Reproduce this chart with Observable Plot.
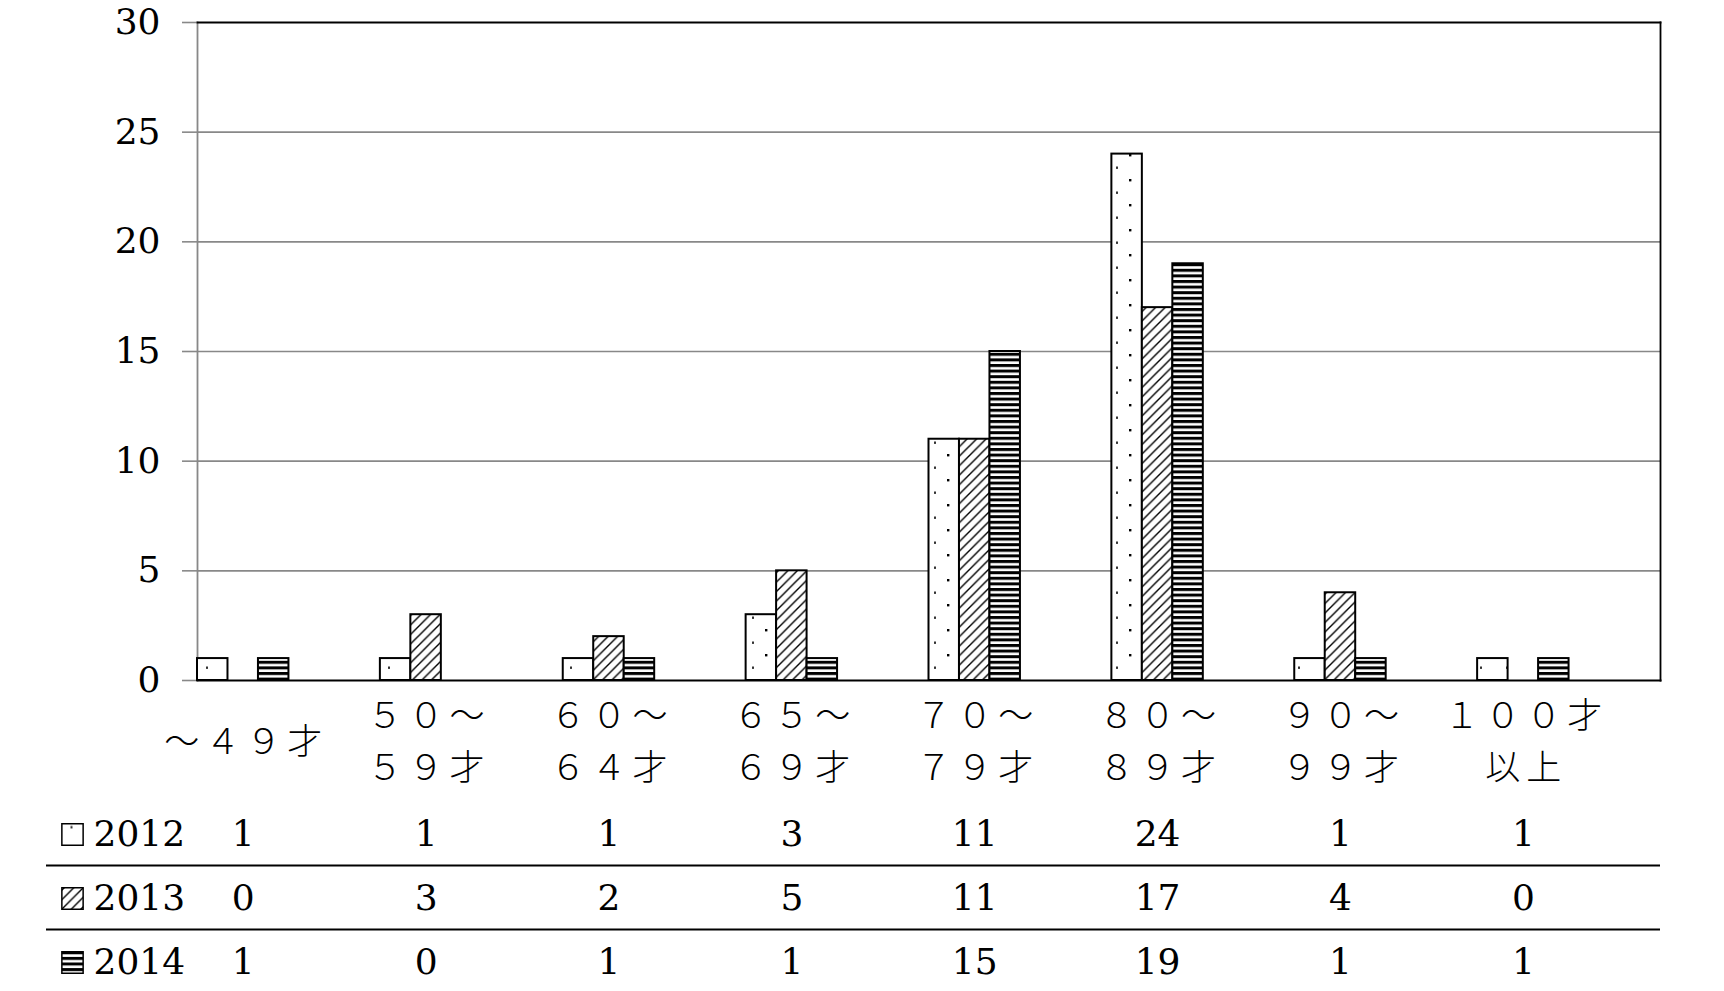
<!DOCTYPE html>
<html>
<head>
<meta charset="utf-8">
<script src="https://cdn.jsdelivr.net/npm/d3@7"></script>
<script src="https://cdn.jsdelivr.net/npm/@observablehq/plot@0.6"></script>
<style>
  body { margin: 0; background: white; }
  g[aria-description="age-labels"] text { letter-spacing: 6px; }
</style>
</head>
<body>
<svg width="0" height="0" style="position:absolute">
  <defs>
    <pattern id="pat2012" patternUnits="userSpaceOnUse" width="26" height="25">
      <rect width="26" height="25" fill="white"/>
      <rect x="11" y="4" width="2.4" height="2.4" fill="black"/>
      <rect x="24" y="16.5" width="2.4" height="2.4" fill="#333"/>
    </pattern>
    <pattern id="pat2013" patternUnits="userSpaceOnUse" width="9.5" height="9.5">
      <rect width="9.5" height="9.5" fill="white"/>
      <path d="M-2,2 L2,-2 M0,9.5 L9.5,0 M7.5,11.5 L11.5,7.5" stroke="black" stroke-width="1.4"/>
    </pattern>
    <pattern id="pat2014" patternUnits="userSpaceOnUse" width="6" height="5.6">
      <rect width="6" height="5.6" fill="white"/>
      <rect width="6" height="3" fill="black"/>
    </pattern>
  </defs>
</svg>
<div id="chart"></div>
<script>
const categories = ["～４９才", "５０～\n５９才", "６０～\n６４才", "６５～\n６９才", "７０～\n７９才", "８０～\n８９才", "９０～\n９９才", "１００才\n以上"];
const years = ["2012", "2013", "2014"];
const values2012 = [1, 1, 1, 3, 11, 24, 1, 1];
const values2013 = [0, 3, 2, 5, 11, 17, 4, 0];
const values2014 = [1, 0, 1, 1, 15, 19, 1, 1];
const yTicks = [0, 5, 10, 15, 20, 25, 30];

const series = [values2012, values2013, values2014];
const slotsPerGroup = 6; // 3 bars + gap of 3 bar widths
const slot = (i, k) => `${i}:${k}`;
const xDomain = categories.flatMap((c, i) => d3.range(slotsPerGroup).map(k => slot(i, k)));
const data = categories.flatMap((c, i) => years.map((yr, k) => ({cat: c, year: yr, slot: slot(i, k), value: series[k][i]})));
const centers = categories.map((c, i) => ({label: c, slot: slot(i, 1)}));

const rowDy = [154, 218, 282];
const dividerDy = [185, 249];
const serif = "'DejaVu Serif', serif";

const rowMarks = years.flatMap((yr, r) => [
  Plot.dot([yr], {frameAnchor: "bottom-left", fill: d => d, symbol: "square", r: 12, stroke: "black", strokeWidth: 1.5, dx: -125, dy: rowDy[r]}),
  Plot.text([yr], {frameAnchor: "bottom-left", lineAnchor: "middle", text: d => d, textAnchor: "start", dx: -104, dy: rowDy[r], fontFamily: serif, fontSize: 36}),
  Plot.text(centers.map((c, i) => ({slot: c.slot, v: series[r][i]})), {x: "slot", text: d => String(d.v), frameAnchor: "bottom", lineAnchor: "middle", dy: rowDy[r], fontFamily: serif, fontSize: 36})
]);

const chart = Plot.plot({
  width: 1724,
  height: 991,
  marginLeft: 197,
  marginRight: 64,
  marginTop: 22,
  marginBottom: 311,
  style: {fontFamily: serif, fontSize: "36px", background: "white", color: "black"},
  x: {type: "band", domain: xDomain, padding: 0, round: false, axis: null},
  y: {domain: [0, 30], axis: null},
  color: {type: "ordinal", domain: years, range: years.map(y => `url(#pat${y})`)},
  marks: [
    Plot.ruleY(yTicks.filter(t => t > 0 && t < 30), {stroke: "#888", strokeWidth: 1.6}),
    Plot.axisY(yTicks, {tickSize: 15, tickPadding: 22, stroke: "#888", strokeWidth: 1.6, label: null}),
    Plot.frame({anchor: "left", stroke: "#888", strokeWidth: 1.8}),
    Plot.frame({anchor: "top", stroke: "black", strokeWidth: 1.8}),
    Plot.frame({anchor: "right", stroke: "black", strokeWidth: 1.8}),
    Plot.barY(data.filter(d => d.value > 0), {x: "slot", y: "value", fill: "year", stroke: "black", strokeWidth: 2}),
    Plot.frame({anchor: "bottom", stroke: "black", strokeWidth: 2}),
    Plot.text(centers, {x: "slot", text: "label", frameAnchor: "bottom", lineAnchor: "middle", dy: 57, dx: 3, lineHeight: 1.48, fontFamily: "'Noto Sans CJK JP', sans-serif", fontSize: 35, fontWeight: 300, ariaDescription: "age-labels"}),
    ...dividerDy.map(dy => Plot.ruleY([0], {dy, insetLeft: -151, stroke: "black", strokeWidth: 2})),
    ...rowMarks
  ]
});
document.getElementById("chart").appendChild(chart);
</script>
</body>
</html>
